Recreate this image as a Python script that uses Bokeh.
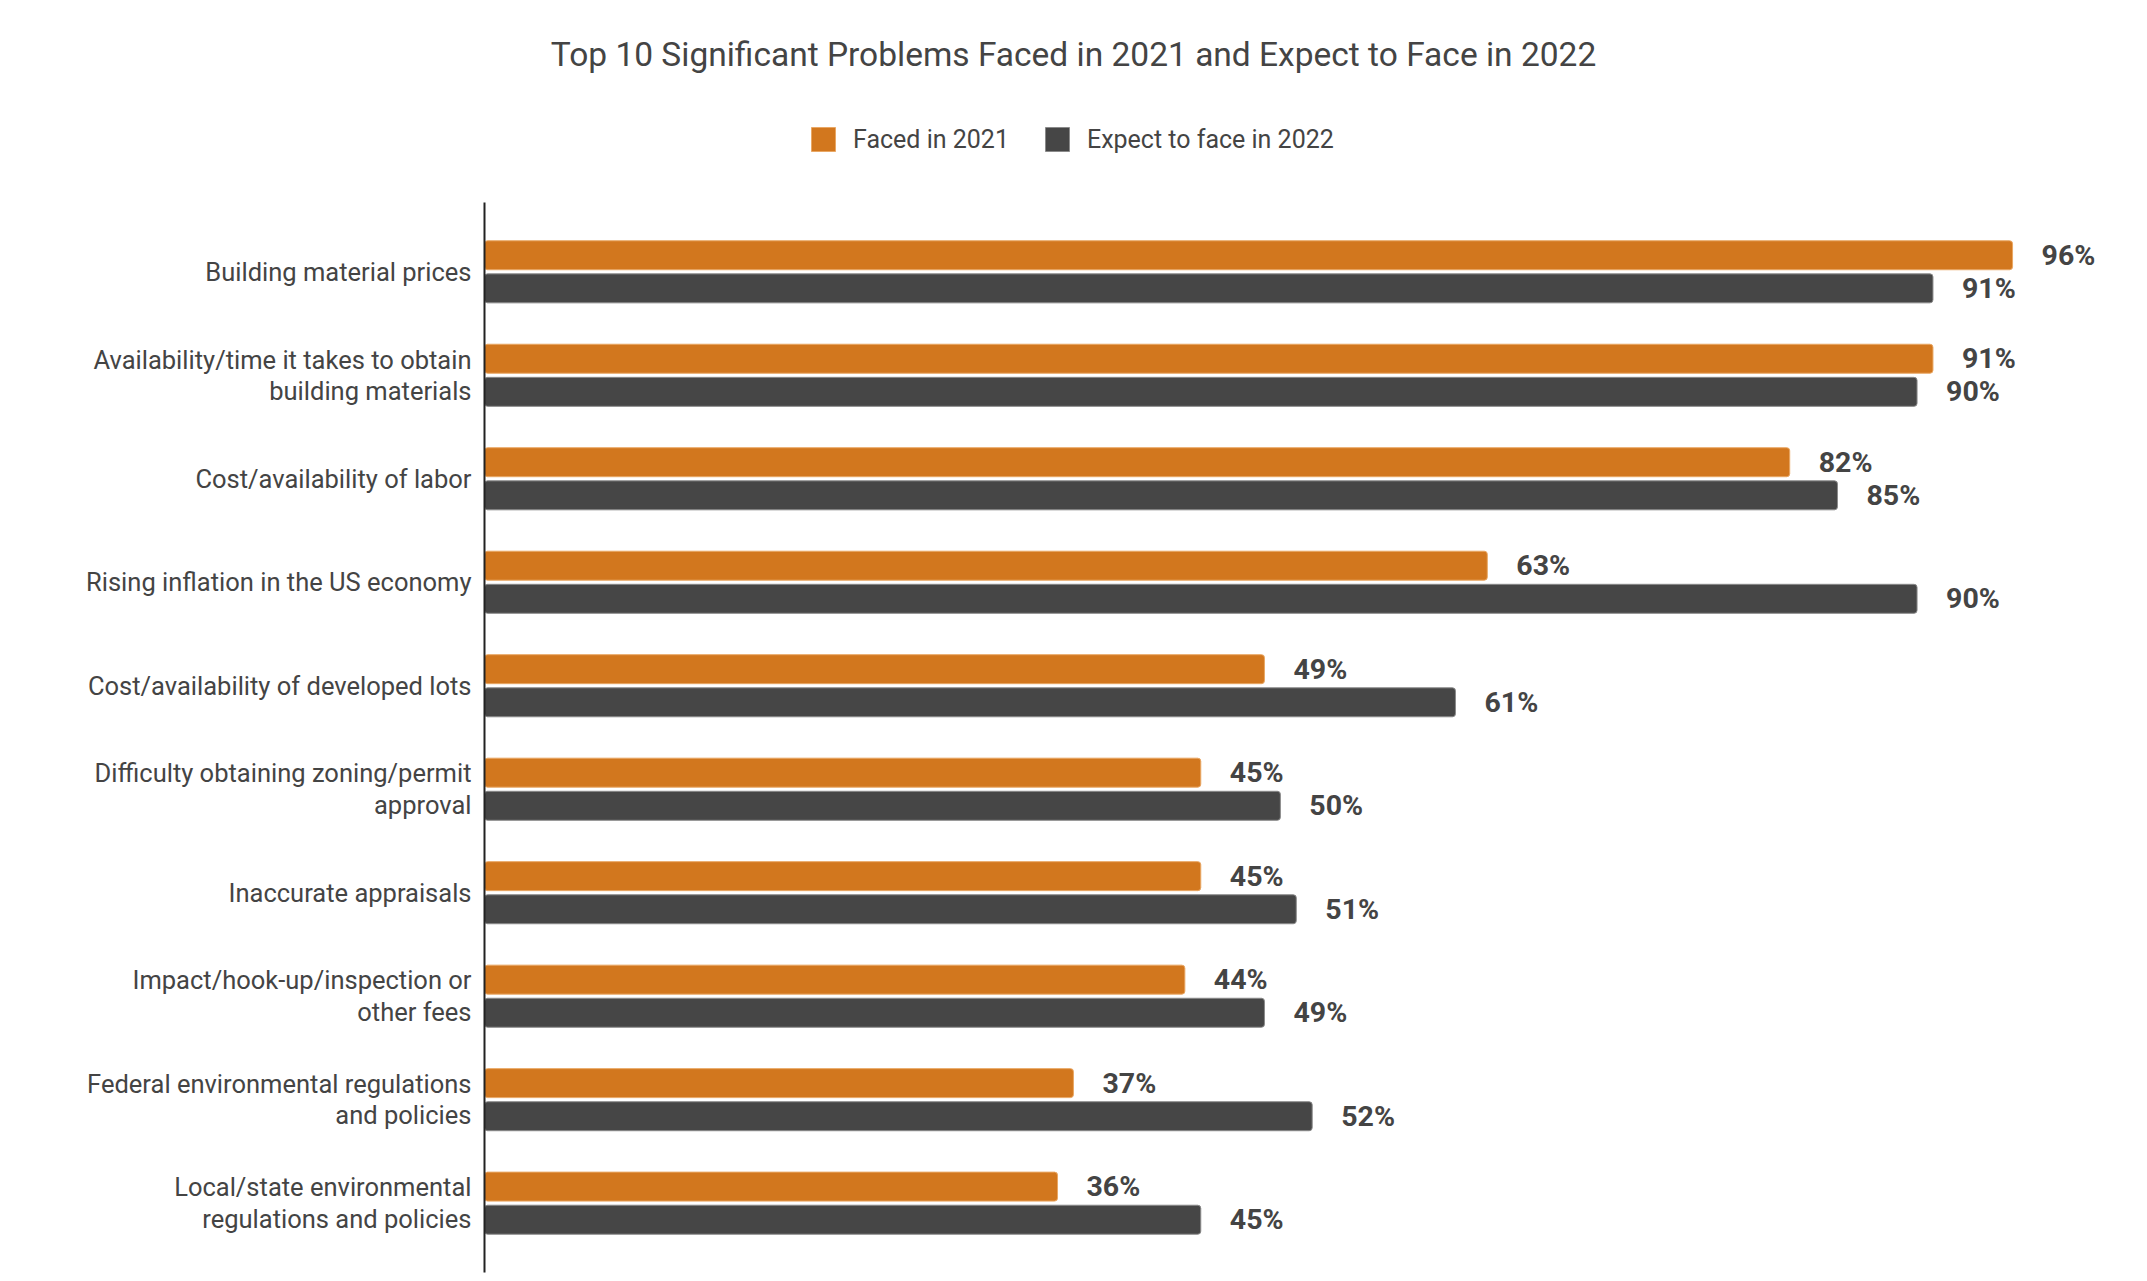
from bokeh.plotting import figure
from bokeh.models import Range1d, ColumnDataSource, Legend, LegendItem, FixedTicker, Label
from bokeh.core.properties import value
from bokeh.embed import file_html
from bokeh.resources import INLINE

categories = [
    "Building material prices",
    "Availability/time it takes to obtain\nbuilding materials",
    "Cost/availability of labor",
    "Rising inflation in the US economy",
    "Cost/availability of developed lots",
    "Difficulty obtaining zoning/permit\napproval",
    "Inaccurate appraisals",
    "Impact/hook-up/inspection or\nother fees",
    "Federal environmental regulations\nand policies",
    "Local/state environmental\nregulations and policies",
]
faced_2021 = [96, 91, 82, 63, 49, 45, 45, 44, 37, 36]
expect_2022 = [91, 90, 85, 90, 61, 50, 51, 49, 52, 45]
series_names = ["Faced in 2021", "Expect to face in 2022"]
title_text = "Top 10 Significant Problems Faced in 2021 and Expect to Face in 2022"

ORANGE = "#D2771E"
DARK = "#464646"
TEXT = "#444444"
FONT = "Roboto"

idx = list(range(len(categories)))
OFF = 0.16
BAR_H = 0.28
AXIS_TOP, AXIS_BOTTOM = -0.67, 9.67

src1 = ColumnDataSource(dict(y=[i - OFF for i in idx], v=faced_2021,
                             lbl=[f"{v}%" for v in faced_2021]))
src2 = ColumnDataSource(dict(y=[i + OFF for i in idx], v=expect_2022,
                             lbl=[f"{v}%" for v in expect_2022]))

W, H = 2130, 1275
LEFT = 479
p = figure(width=W, height=H, output_backend="svg", toolbar_location=None,
           title_location=None,
           x_range=Range1d(-0.314, 103.41), y_range=Range1d(9.699, -2.6217),
           min_border_left=LEFT, min_border_right=0, min_border_bottom=0, min_border_top=0)

r1 = p.hbar(y="y", right="v", left=0, height=BAR_H, source=src1,
            fill_color=ORANGE, line_color="#E9A764", line_width=1, border_radius=3)
r2 = p.hbar(y="y", right="v", left=0, height=BAR_H, source=src2,
            fill_color=DARK, line_color="#8A8A8A", line_width=1, border_radius=3)

# vertical axis line
p.segment(x0=[0], y0=[AXIS_TOP], x1=[0], y1=[AXIS_BOTTOM], line_color="#222222", line_width=2)

for s in (src1, src2):
    p.text(x="v", y="y", text="lbl", source=s, x_offset=29,
           text_baseline="middle", text_align="left",
           text_font=value(FONT), text_font_style="bold",
           text_font_size="28.5px", text_color=TEXT)

p.xaxis.visible = False
p.xgrid.visible = False
p.ygrid.visible = False
p.outline_line_color = None

yax = p.yaxis[0]
yax.ticker = FixedTicker(ticks=idx)
yax.major_label_overrides = {i: c for i, c in zip(idx, categories)}
yax.major_label_text_font = FONT
yax.major_label_text_font_size = "25.5px"
yax.major_label_text_color = TEXT
yax.major_label_text_line_height = 1.05
yax.major_label_standoff = 2
yax.major_tick_line_color = None
yax.minor_tick_line_color = None
yax.axis_line_color = None

title = Label(x=1073 - LEFT, y=H - 54, x_units="screen", y_units="screen", text=title_text,
              text_align="center", text_baseline="middle",
              text_font=FONT, text_font_size="33.5px", text_color=TEXT)
p.add_layout(title)

legend = Legend(items=[LegendItem(label=series_names[0], renderers=[r1]),
                       LegendItem(label=series_names[1], renderers=[r2])],
                orientation="horizontal", location=(808 - LEFT, H - 154),
                label_text_font=FONT, label_text_font_size="25px", label_text_color=TEXT,
                glyph_width=30, glyph_height=30, label_height=30, label_standoff=15, spacing=33,
                padding=0, margin=0, border_line_color=None, background_fill_alpha=0)
p.add_layout(legend, "center")

open("out.html", "w").write(file_html(p, INLINE))
